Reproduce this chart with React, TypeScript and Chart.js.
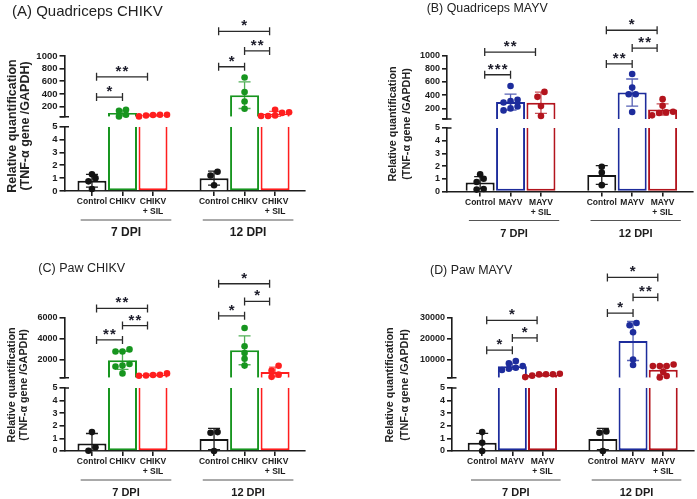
import React, { useEffect, useRef } from 'react';
import { Chart, registerables } from 'chart.js';

Chart.register(...registerables);

const FONT = "'Liberation Sans', Arial, Helvetica, sans-serif";
const INK = '#1c1c1c';

// Category slots; the empty slot keeps the two time points apart
const chikvGroups = ['Control', 'CHIKV', 'CHIKV\n+ SIL', '', 'Control', 'CHIKV', 'CHIKV\n+ SIL'];
const mayvGroups = ['Control', 'MAYV', 'MAYV\n+ SIL', '', 'Control', 'MAYV', 'MAYV\n+ SIL'];
const timePoints = ['7 DPI', '12 DPI'];

// Tick values: lower segment of the broken axis, then the upper segments
const lowTicks = [0, 1, 2, 3, 4, 5];
const quadTicks = [200, 400, 600, 800, 1000];
const pawChikvTicks = [2000, 4000, 6000];
const pawMayvTicks = [10000, 20000, 30000];

// (A) Quadriceps CHIKV
const quadChikvMean = [0.8, 100, 63, null, 1.0, 380, 85];
const quadChikvSd = [0.5, 45, 12, null, 0.55, 210, 40];
const quadChikvPoints = [[1.3, 0.75, 1.0, 0.15], [150, 135, 70, 45], [60, 72, 70, 68, 45], [], [1.2, 1.5, 0.45], [660, 430, 280, 165], [50, 110, 150, 100, 50, 60]];
const quadChikvSig = [[0, 2, 670, '**'], [0, 1, 350, '*'], [4, 6, 1390, '*'], [5, 6, 1080, '**'], [4, 5, 830, '*']];

// (B) Quadriceps MAYV
const quadMayvMean = [0.7, 296, 286, null, 1.3, 440, 185];
const quadMayvSd = [0.47, 120, 160, null, 0.74, 205, 85];
const quadMayvPoints = [[1.35, 0.75, 1.0, 0.15, 0.2], [540, 330, 310, 290, 230, 200, 170], [450, 375, 235, 85], [], [1.5, 1.95, 0.5], [720, 515, 415, 415, 145], [340, 240, 150, 140, 130, 95]];
const quadMayvSig = [[0, 2, 1052, '**'], [0, 1, 709, '***'], [4, 6, 1382, '*'], [5, 6, 1113, '**'], [4, 5, 873, '**']];

// (C) Paw CHIKV
const pawChikvMean = [0.6, 1900, 510, null, 0.95, 2860, 790];
const pawChikvSd = [0.79, 870, 80, null, 0.85, 1380, 460];
const pawChikvPoints = [[1.5, 0.3, 0.02], [2950, 2750, 2750, 1550, 1300, 1400, 650], [450, 650, 520, 500, 430], [], [1.45, 1.5, 0.0], [5000, 3250, 2600, 2050, 1400], [320, 920, 1380, 530]];
const pawChikvSig = [[0, 2, 6870, '**'], [1, 2, 5230, '**'], [0, 1, 3850, '**'], [4, 6, 9230, '*'], [5, 6, 7540, '*'], [4, 5, 6160, '*']];

// (D) Paw MAYV
const pawMayvMean = [0.65, 6750, 2550, null, 0.95, 18900, 5050];
const pawMayvSd = [0.75, 1500, 600, null, 0.85, 9400, 2200];
const pawMayvPoints = [[1.5, 0.65, 0.0], [8100, 9200, 6800, 4900, 6000, 5500], [2900, 2800, 2900, 3100, 1500, 2200], [], [1.45, 1.55, 0.0], [27600, 26500, 23100, 10000, 7300], [6800, 7600, 6800, 6800, 4000, 2000, 1300]];
const pawMayvSig = [[0, 2, 28900, '*'], [1, 2, 20400, '*'], [0, 1, 14470, '*'], [4, 6, 49570, '*'], [5, 6, 39950, '**'], [4, 5, 32400, '*']];

const chikvColors = ['#141414', '#17951f', '#ff1e1e'];
const mayvColors = ['#141414', '#1d2c9c', '#b3141d'];

type Panel = {
  key: string;
  title: string;
  categories: string[];
  mean: (number | null)[];
  sd: (number | null)[];
  points: number[][];
  sig: any[];
  highTicks: number[];
  highMin: number;
  colors: string[];
  box: { left: number; top: number; width: number; height: number };
  area: { left: number; right: number; top: number; bottom: number };
  xRange: [number, number];
  segments: [number, number, number];
  titlePos: [number, number];
  titleSize: number;
  yTitleX: [number, number];
  yTitleY: number;
  yTitleSize: number;
  tickSize: number;
  dpiSize: number;
};

const panels: Panel[] = [
  {
    key: 'A', title: '(A) Quadriceps CHIKV', categories: chikvGroups,
    mean: quadChikvMean, sd: quadChikvSd, points: quadChikvPoints, sig: quadChikvSig,
    highTicks: quadTicks, highMin: 40, colors: chikvColors,
    box: { left: 0, top: 0, width: 348, height: 250 },
    area: { left: 64.5, right: 305, top: 56, bottom: 191 },
    xRange: [-0.9, 6.98], segments: [60.7, 10, 64.3],
    titlePos: [12, 12], titleSize: 15,
    yTitleX: [12.5, 26], yTitleY: 126, yTitleSize: 12.5, tickSize: 9.5, dpiSize: 12,
  },
  {
    key: 'B', title: '(B) Quadriceps MAYV', categories: mayvGroups,
    mean: quadMayvMean, sd: quadMayvSd, points: quadMayvPoints, sig: quadMayvSig,
    highTicks: quadTicks, highMin: 40, colors: mayvColors,
    box: { left: 349, top: 0, width: 348, height: 250 },
    area: { left: 98, right: 344, top: 55.5, bottom: 191.5 },
    xRange: [-1.09, 7.0], segments: [63.5, 9, 63.5],
    titlePos: [77.7, 8.5], titleSize: 12.4,
    yTitleX: [44.3, 57.7], yTitleY: 124, yTitleSize: 10.8, tickSize: 9, dpiSize: 11,
  },
  {
    key: 'C', title: '(C) Paw CHIKV', categories: chikvGroups,
    mean: pawChikvMean, sd: pawChikvSd, points: pawChikvPoints, sig: pawChikvSig,
    highTicks: pawChikvTicks, highMin: 240, colors: chikvColors,
    box: { left: 0, top: 250, width: 348, height: 249 },
    area: { left: 64.5, right: 305, top: 67.5, bottom: 201 },
    xRange: [-0.9, 6.98], segments: [60.2, 10.3, 63],
    titlePos: [38.3, 19], titleSize: 12.5,
    yTitleX: [11.7, 24], yTitleY: 135, yTitleSize: 10.8, tickSize: 9, dpiSize: 11,
  },
  {
    key: 'D', title: '(D) Paw MAYV', categories: mayvGroups,
    mean: pawMayvMean, sd: pawMayvSd, points: pawMayvPoints, sig: pawMayvSig,
    highTicks: pawMayvTicks, highMin: 1200, colors: mayvColors,
    box: { left: 349, top: 250, width: 348, height: 249 },
    area: { left: 103, right: 347.5, top: 68, bottom: 201 },
    xRange: [-1.0, 7.01], segments: [59.7, 10.3, 63],
    titlePos: [81, 20.5], titleSize: 12.4,
    yTitleX: [41, 56], yTitleY: 135, yTitleSize: 10.8, tickSize: 9, dpiSize: 11,
  },
];

// bracket ends sit slightly inside the outer bars of a group
const anchorShift = [0.15, 0, -0.18];

function groupRuns(categories: string[]): [number, number][] {
  const runs: [number, number][] = [];
  let start = -1;
  categories.forEach((c, i) => {
    if (c && start < 0) start = i;
    if ((!c || i === categories.length - 1) && start >= 0) {
      runs.push([start, c ? i : i - 1]);
      start = -1;
    }
  });
  return runs;
}

// dot-plot layout: points at about the same height share a row, centred on the bar
function swarm(values: number[], heightOf: (v: number) => number, spacing: number, slotPx: number) {
  const order = values.map((_, i) => i).sort((a, b) => heightOf(values[a]) - heightOf(values[b]));
  const offsets = new Array(values.length).fill(0);
  let row: number[] = [];
  const flush = () => {
    row.forEach((k, j) => { offsets[k] = ((j - (row.length - 1) / 2) * spacing) / slotPx; });
    row = [];
  };
  for (const k of order) {
    if (row.length && heightOf(values[k]) - heightOf(values[row[0]]) > 5) flush();
    row.push(k);
  }
  flush();
  return offsets;
}

function buildConfig(p: Panel): any {
  const { area, box } = p;
  const [hiH, gapH, loH] = p.segments;
  const hiMax = p.highTicks[p.highTicks.length - 1];
  const slotPx = (area.right - area.left) / (p.xRange[1] - p.xRange[0]);
  const heightOf = (v: number) => (v <= 5 ? (v / 5) * loH : loH + gapH + ((v - p.highMin) / (hiMax - p.highMin)) * hiH);
  const colorOf = (i: number) => p.colors[i % 4];

  const lowBars: any[] = [], lowColors: string[] = [], lowSkip: string[] = [];
  const highBars: any[] = [], highColors: string[] = [];
  const lowPts: any[] = [], lowPtColors: string[] = [];
  const highPts: any[] = [], highPtColors: string[] = [];

  p.mean.forEach((m, i) => {
    if (m == null) return;
    const c = colorOf(i);
    lowBars.push({ x: i, y: [0, Math.min(m, 5)] });
    lowColors.push(c);
    lowSkip.push(m > 5 ? 'end' : 'start');
    if (m > 5) {
      highBars.push({ x: i, y: [p.highMin, m] });
      highColors.push(c);
    }
    const vals = p.points[i];
    const offs = swarm(vals, heightOf, 7, slotPx);
    vals.forEach((v, k) => {
      if (v <= 5) { lowPts.push({ x: i + offs[k], y: v }); lowPtColors.push(c); }
      else { highPts.push({ x: i + offs[k], y: v }); highPtColors.push(c); }
    });
  });

  const barCommon = {
    type: 'bar', xAxisID: 'x', grouped: false, barThickness: 29, maxBarThickness: 29,
    borderWidth: 2, backgroundColor: '#ffffff', inflateAmount: 0,
  };
  const ptCommon = {
    type: 'scatter', xAxisID: 'x', showLine: false, pointRadius: 3.3, pointHoverRadius: 3.3,
    pointBorderWidth: 0, clip: false,
  };

  const yBase = (weight: number, stackWeight: number) => ({
    type: 'linear', axis: 'y', position: 'left', stack: 'v', stackWeight, weight,
    bounds: 'data', beginAtZero: false,
    border: { display: true, color: INK, width: 1.6 },
    grid: { display: true, drawOnChartArea: false, drawTicks: true, tickLength: 5, color: INK, lineWidth: 1.6, offset: false },
    ticks: { color: INK, font: { family: FONT, size: p.tickSize, weight: 'bold' }, padding: 2, autoSkip: false },
    afterFit: (s: any) => { s.width = area.left; },
  });

  const drawErrorBars = (chart: any) => {
    const { ctx } = chart;
    const x = chart.scales.x, hi = chart.scales.yHigh, lo = chart.scales.yLow;
    ctx.save();
    ctx.lineWidth = 1.3;
    p.mean.forEach((m, i) => {
      if (m == null) return;
      const sd = p.sd[i] || 0;
      const s = m > 5 ? hi : lo;
      const floor = m > 5 ? p.highMin : 0;
      const cx = x.getPixelForValue(i);
      const yTop = s.getPixelForValue(m + sd);
      const yBot = s.getPixelForValue(Math.max(m - sd, floor));
      ctx.strokeStyle = i % 4 === 0 ? INK : colorOf(i);
      ctx.globalAlpha = i % 4 === 0 ? 1 : 0.75;
      ctx.beginPath();
      ctx.moveTo(cx, yTop); ctx.lineTo(cx, yBot);
      ctx.moveTo(cx - 6, yTop); ctx.lineTo(cx + 6, yTop);
      if (m - sd > floor) { ctx.moveTo(cx - 6, yBot); ctx.lineTo(cx + 6, yBot); }
      ctx.stroke();
    });
    ctx.restore();
  };

  const decor = {
    id: 'panelDecor' + p.key,
    afterDatasetDraw(chart: any, args: any) {
      if (args.index === 1) drawErrorBars(chart);
    },
    afterDraw(chart: any) {
      const { ctx, chartArea } = chart;
      const x = chart.scales.x, hi = chart.scales.yHigh, lo = chart.scales.yLow;
      ctx.save();

      // axis break caps
      const ax = hi.right;
      ctx.strokeStyle = INK;
      ctx.lineWidth = 1.6;
      ctx.beginPath();
      ctx.moveTo(ax - 4.5, hi.bottom); ctx.lineTo(ax + 4.5, hi.bottom);
      ctx.moveTo(ax, lo.top); ctx.lineTo(ax + 4.5, lo.top);
      ctx.stroke();

      // significance brackets
      p.sig.forEach(([a, b, level, stars]: any) => {
        const xa = x.getPixelForValue(a + anchorShift[a % 4]);
        const xb = x.getPixelForValue(b + anchorShift[b % 4]);
        const y = hi.getPixelForValue(level);
        ctx.strokeStyle = '#2a2a2a';
        ctx.lineWidth = 1.3;
        ctx.beginPath();
        ctx.moveTo(xa, y); ctx.lineTo(xb, y);
        ctx.moveTo(xa, y - 4); ctx.lineTo(xa, y + 4);
        ctx.moveTo(xb, y - 4); ctx.lineTo(xb, y + 4);
        ctx.stroke();
        ctx.fillStyle = '#1d1d2b';
        ctx.font = `bold 15px ${FONT}`;
        ctx.textAlign = 'center';
        ctx.textBaseline = 'alphabetic';
        const n = stars.length;
        for (let k = 0; k < n; k++) {
          ctx.fillText('*', (xa + xb) / 2 + (k - (n - 1) / 2) * 7, y - 1);
        }
      });

      // time point groups under the category labels
      groupRuns(p.categories).forEach(([s, e], g) => {
        const xa = x.getPixelForValue(s - 0.37);
        const xb = x.getPixelForValue(e + 0.6);
        const y = chartArea.bottom + 29;
        ctx.strokeStyle = '#555555';
        ctx.lineWidth = 1;
        ctx.beginPath();
        ctx.moveTo(xa, y); ctx.lineTo(xb, y);
        ctx.stroke();
        ctx.fillStyle = INK;
        ctx.font = `bold ${p.dpiSize}px ${FONT}`;
        ctx.textAlign = 'center';
        ctx.textBaseline = 'middle';
        ctx.fillText(timePoints[g], (xa + xb) / 2, chartArea.bottom + 42);
      });

      // panel title
      ctx.fillStyle = '#222222';
      ctx.font = `${p.titleSize}px ${FONT}`;
      ctx.textAlign = 'left';
      ctx.textBaseline = 'middle';
      ctx.fillText(p.title, p.titlePos[0], p.titlePos[1]);

      // value axis title
      ctx.font = `bold ${p.yTitleSize}px ${FONT}`;
      ctx.textAlign = 'center';
      ['Relative quantification', '(TNF-\u03b1 gene /GAPDH)'].forEach((t, j) => {
        ctx.save();
        ctx.translate(p.yTitleX[j], p.yTitleY);
        ctx.rotate(-Math.PI / 2);
        ctx.fillText(t, 0, 0);
        ctx.restore();
      });
      ctx.restore();
    },
  };

  return {
    type: 'bar',
    data: {
      datasets: [
        { ...barCommon, yAxisID: 'yLow', order: 4, data: lowBars, borderColor: lowColors, borderSkipped: (c: any) => lowSkip[c.dataIndex] },
        { ...barCommon, yAxisID: 'yHigh', order: 3, data: highBars, borderColor: highColors, borderSkipped: 'start' },
        { ...ptCommon, yAxisID: 'yLow', order: 2, data: lowPts, pointBackgroundColor: lowPtColors, pointBorderColor: lowPtColors },
        { ...ptCommon, yAxisID: 'yHigh', order: 1, data: highPts, pointBackgroundColor: highPtColors, pointBorderColor: highPtColors },
      ],
    },
    options: {
      responsive: false,
      animation: false,
      devicePixelRatio: 1,
      events: [],
      layout: { padding: { left: 0, top: area.top, right: box.width - area.right, bottom: 0 } },
      plugins: { legend: { display: false }, tooltip: { enabled: false }, title: { display: false } },
      scales: {
        x: {
          type: 'linear', position: 'bottom', min: p.xRange[0], max: p.xRange[1], offset: false, bounds: 'data',
          border: { display: true, color: INK, width: 1.6 },
          grid: { display: true, drawOnChartArea: false, drawTicks: true, tickLength: 5, color: INK, lineWidth: 1.6, offset: false },
          ticks: {
            autoSkip: false, maxRotation: 0, minRotation: 0, padding: 1, color: INK,
            font: { family: FONT, size: 8.5, weight: 'bold', lineHeight: 1.15 },
            callback: (v: number) => (p.categories[v] || '').split('\n'),
          },
          afterBuildTicks: (s: any) => {
            s.ticks = p.categories.map((c, i) => (c ? { value: i } : null)).filter(Boolean);
          },
          afterFit: (s: any) => { s.height = box.height - area.bottom; },
        },
        yHigh: {
          ...yBase(3, p.segments[0]), min: p.highMin, max: hiMax,
          afterBuildTicks: (s: any) => { s.ticks = [p.highMin, ...p.highTicks].map((value) => ({ value })); },
          ticks: { ...yBase(3, 1).ticks, callback: (v: number) => (v === p.highMin ? '' : String(v)) },
        },
        yGap: {
          type: 'linear', axis: 'y', position: 'left', stack: 'v', stackWeight: p.segments[1], weight: 2,
          border: { display: false },
          grid: { display: false, drawTicks: false },
          ticks: { display: false },
          afterFit: (s: any) => { s.width = area.left; },
        },
        yLow: {
          ...yBase(1, p.segments[2]), min: 0, max: 5,
          afterBuildTicks: (s: any) => { s.ticks = lowTicks.map((value) => ({ value })); },
          ticks: { ...yBase(1, 1).ticks, callback: (v: number) => String(v) },
        },
      },
    },
    plugins: [decor],
  };
}

function PanelChart({ p }: { p: Panel }) {
  const ref = useRef<HTMLCanvasElement>(null);
  useEffect(() => {
    if (!ref.current) return;
    const chart = new Chart(ref.current, buildConfig(p));
    return () => chart.destroy();
  }, [p]);
  return (
    <canvas
      ref={ref}
      width={p.box.width}
      height={p.box.height}
      style={{ position: 'absolute', left: p.box.left, top: p.box.top, width: p.box.width, height: p.box.height }}
    />
  );
}

export default function App() {
  return (
    <div style={{ position: 'fixed', left: 0, top: 0, width: 697, height: 499, background: '#ffffff', overflow: 'hidden' }}>
      {panels.map((p) => <PanelChart key={p.key} p={p} />)}
    </div>
  );
}
